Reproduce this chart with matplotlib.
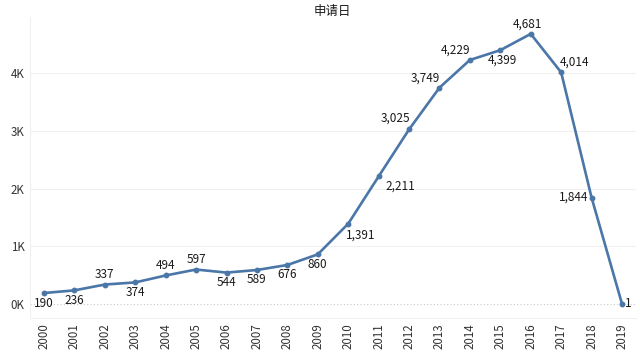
import matplotlib.pyplot as plt
from matplotlib.ticker import FuncFormatter

plt.rcParams['font.family'] = ['Noto Sans CJK SC', 'DejaVu Sans']

years = [str(y) for y in range(2000, 2020)]
counts = [190, 236, 337, 374, 494, 597, 544, 589, 676, 860,
          1391, 2211, 3025, 3749, 4229, 4399, 4681, 4014, 1844, 1]
title = '申请日'

# label offsets in pixels (dx, dy) from each point
offsets = [(0, -10), (0, -10), (0, 10), (0, -10), (0, 10), (0, 10), (0, -10), (0, -10), (0, -10), (0, -10),
           (12, -11), (22, -10), (-14, 11), (-14, 10), (-14, 10), (2, -10), (-3, 10), (13, 10), (-3, 0), (3, 0)]
aligns = ['center'] * 18 + ['right', 'left']

line_col = '#4a76a8'

fig = plt.figure(figsize=(6.4, 3.54), dpi=100)
ax = fig.add_axes([30 / 640, 1 - 318 / 354, 606 / 640, 301 / 354])

x = list(range(len(years)))
ax.plot(x, counts, color=line_col, lw=1.9, marker='o', ms=3.2, zorder=3)

for i, v in enumerate(counts):
    dx, dy = offsets[i]
    ax.annotate(f'{v:,}', (i, v), xytext=(dx * 0.72, dy * 0.72), textcoords='offset points',
                ha=aligns[i], va='center', fontsize=8.5, color='#1a1a1a')

ax.set_xlim(-0.46, len(years) - 1 + 0.46)
ax.set_ylim(-243, 4974)
ax.set_xticks(x)
ax.set_xticklabels(years, rotation=90, fontsize=8.3, color='#333333')
ax.set_yticks([0, 1000, 2000, 3000, 4000])
ax.yaxis.set_major_formatter(FuncFormatter(lambda v, p: f'{int(v / 1000)}K'))
ax.tick_params(axis='y', labelsize=8.3, colors='#333333', length=0, pad=4)
ax.tick_params(axis='x', length=0, pad=4)

for yv in [1000, 2000, 3000, 4000]:
    ax.axhline(yv, color='#f0f0f0', lw=0.8, zorder=0)
ax.axhline(0, color='#c8c8c8', lw=0.8, ls=(0, (1, 2)), zorder=0)

for s in ['top', 'right']:
    ax.spines[s].set_visible(False)
ax.spines['left'].set_color('#f0f0f0')
ax.spines['bottom'].set_color('#f0f0f0')

fig.text(332 / 640, 1 - 12 / 354, title, ha='center', va='center', fontsize=9, color='#1a1a1a')

fig.savefig('out.png', dpi=100)
